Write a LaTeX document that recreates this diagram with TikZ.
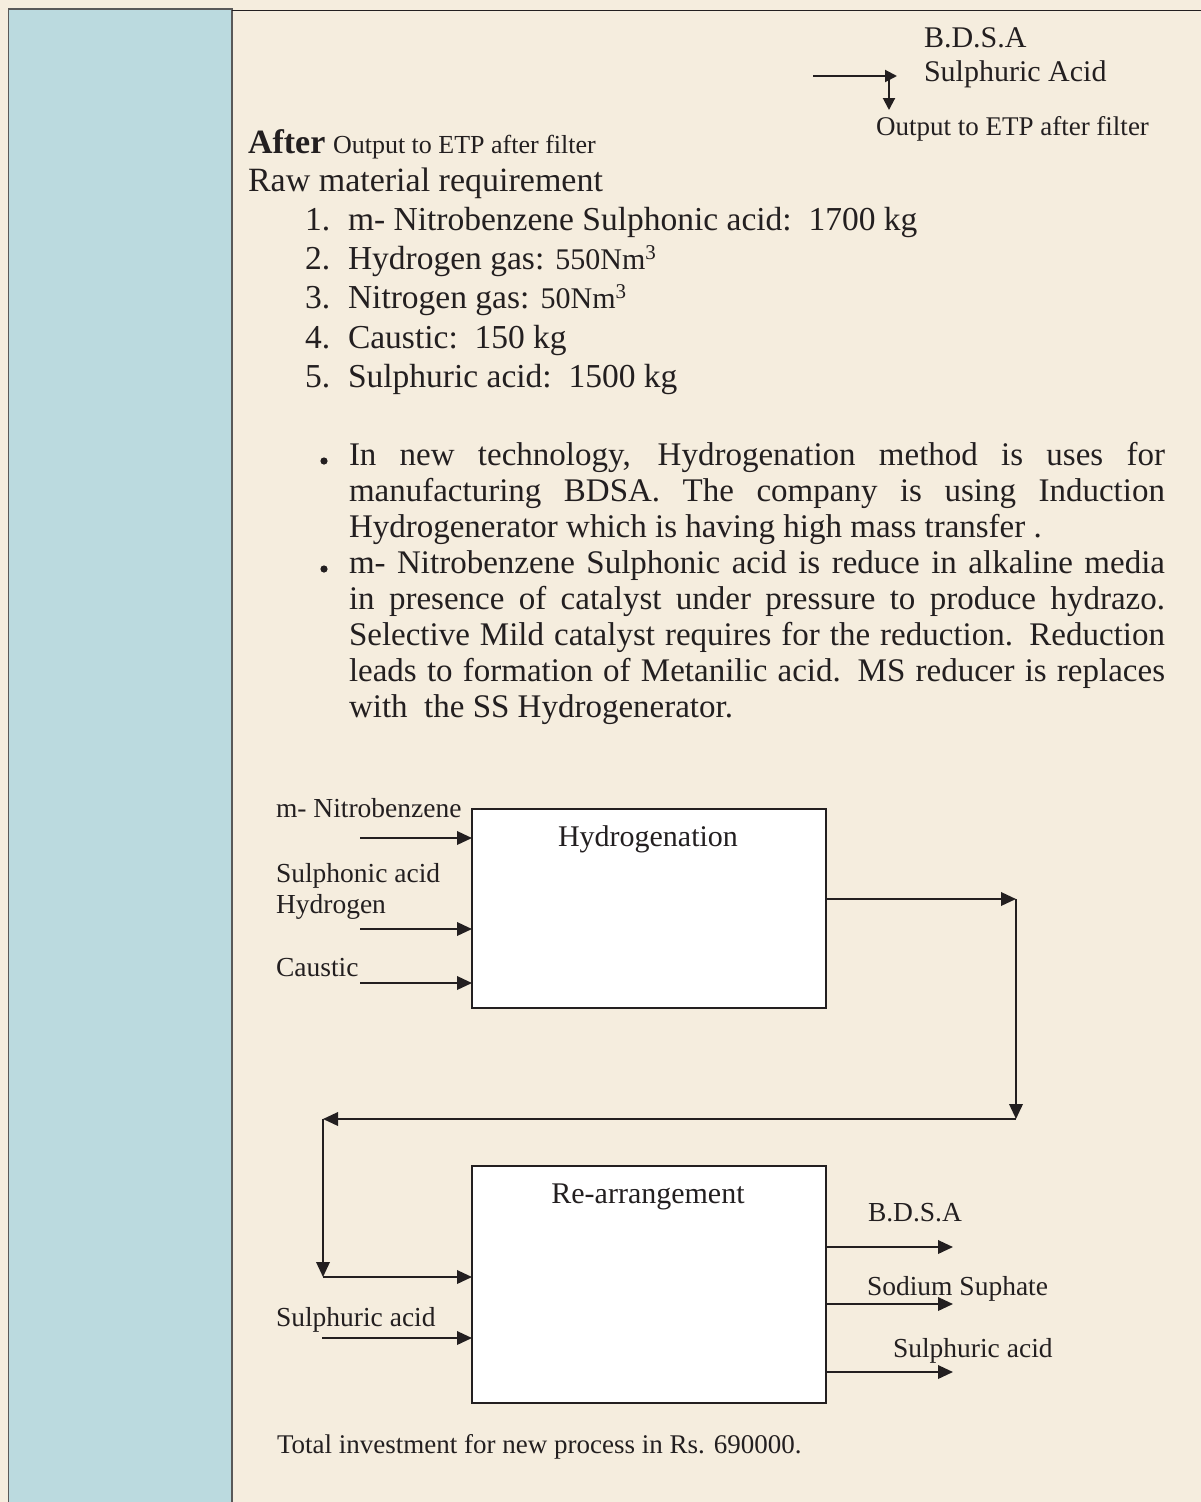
\documentclass[tikz,border=0pt]{standalone}
\usepackage{fontspec}
\setmainfont{Liberation Serif}
\usetikzlibrary{arrows.meta}
\definecolor{bgc}{HTML}{F5EDDE}
\definecolor{panelc}{HTML}{BBDADF}
\definecolor{inkc}{HTML}{231F20}
\newcommand\fsz[1]{\fontsize{#1}{#1}\selectfont}
\begin{document}
\begin{tikzpicture}[x=1pt,y=-1pt,
  every node/.style={inner sep=0pt, outer sep=0pt, text=inkc},
  txt/.style={anchor=base west},
  arr/.style={draw=inkc, line width=2pt, -{Triangle[length=15pt,width=13.5pt]}},
  sarr/.style={draw=inkc, line width=2pt, -{Triangle[length=12pt,width=12pt]}},
  procbox/.style={draw=inkc, line width=1.5pt, fill=white, anchor=north west},
  lbl/.style={anchor=base west, font=\fsz{27.5}},
  ttl/.style={anchor=base, font=\fsz{30}}]
\useasboundingbox (0,0) rectangle (1201,1502);
\fill[bgc] (0,0) rectangle (1201,1502);
% left panel and top rule
\draw[fill=panelc, draw=black!65, line width=1.2pt] (8.5,9) rectangle (232,1520);
\draw[draw=inkc, line width=1.5pt] (232,10.5) -- (1201,10.5);

% top right
\node[txt, font=\fsz{30}] (tbdsa) at (924,47) {B.D.S.A};
\node[txt, font=\fsz{30}] (tsa) at (924,81) {Sulphuric Acid};
\coordinate (ta0) at (813,76);
\coordinate (ta1) at (897,76);
\coordinate (tb0) at (889,76);
\coordinate (tb1) at (889,110);
\draw[sarr] (ta0) -- (ta1);
\draw[sarr] (tb0) -- (tb1);
\node[txt, font=\fsz{27}] (tout) at (876,135) {Output to ETP after filter};

% heading
\node[txt, font=\fsz{34}\bfseries] (after) at (248,153) {After};
\node[txt, font=\fsz{26}] (aout) at (333,153) {Output to ETP after filter};
\node[txt, font=\fsz{34}] (raw) at (248,191) {Raw material requirement};

% list
\node[txt, font=\fsz{33.5}] (n1) at (305,230) {1.};
\node[txt, font=\fsz{33.5}] (t1) at (348,230) {m- Nitrobenzene Sulphonic acid:\ \ 1700 kg};
\node[txt, font=\fsz{33.5}] (n2) at (305,269) {2.};
\node[txt, font=\fsz{33.5}] (t2) at (348,269) {Hydrogen gas: {\fsz{30}550Nm\textsuperscript{3}}};
\node[txt, font=\fsz{33.5}] (n3) at (305,308) {3.};
\node[txt, font=\fsz{33.5}] (t3) at (348,308) {Nitrogen gas: {\fsz{30}50Nm\textsuperscript{3}}};
\node[txt, font=\fsz{33.5}] (n4) at (305,348) {4.};
\node[txt, font=\fsz{33.5}] (t4) at (348,348) {Caustic:\ \ 150 kg};
\node[txt, font=\fsz{33.5}] (n5) at (305,387) {5.};
\node[txt, font=\fsz{33.5}] (t5) at (348,387) {Sulphuric acid:\ \ 1500 kg};

% bullets
\fill[inkc] (324,461) circle (3.6pt);
\fill[inkc] (324,569) circle (3.6pt);
\node[txt, font=\fsz{33}] (p1) at (349,465) {\makebox[816pt][s]{In new technology, Hydrogenation method is uses for}};
\node[txt, font=\fsz{33}] (p2) at (349,501) {\makebox[816pt][s]{manufacturing BDSA. The company is using Induction}};
\node[txt, font=\fsz{33}] (p3) at (349,537) {Hydrogenerator which is having high mass transfer .};
\node[txt, font=\fsz{33}] (p4) at (349,573) {\makebox[816pt][s]{m- Nitrobenzene Sulphonic acid is reduce in alkaline media}};
\node[txt, font=\fsz{33}] (p5) at (349,609) {\makebox[816pt][s]{in presence of catalyst under pressure to produce hydrazo.}};
\node[txt, font=\fsz{33}] (p6) at (349,645) {\makebox[816pt][s]{Selective Mild catalyst requires for the reduction. Reduction}};
\node[txt, font=\fsz{33}] (p7) at (349,681) {\makebox[816pt][s]{leads to formation of Metanilic acid. MS reducer is replaces}};
\node[txt, font=\fsz{33}] (p8) at (349,717) {with\ \ the SS Hydrogenerator.};

% hydrogenation block
\node[procbox, minimum width=354pt, minimum height=199pt] (hyd) at (472,809) {};
\node[ttl] (hydt) at (648,846) {Hydrogenation};
\node[lbl] (lnb) at (276,817) {m- Nitrobenzene};
\node[lbl] (lsa) at (276,882) {Sulphonic acid};
\node[lbl] (lh) at (276,913) {Hydrogen};
\node[lbl] (lc) at (276,976) {Caustic};
\coordinate (i1) at (360,838);
\coordinate (i2) at (360,929);
\coordinate (i3) at (360,983);
\draw[arr] (i1) -- (i1 -| hyd.west);
\draw[arr] (i2) -- (i2 -| hyd.west);
\draw[arr] (i3) -- (i3 -| hyd.west);

% loop to re-arrangement
\coordinate (o1) at (1016,899);
\coordinate (c2) at (1016,1119);
\coordinate (c3) at (323,1119);
\coordinate (c4) at (323,1277);
\draw[arr] (hyd.east |- o1) -- (o1);
\draw[arr] (o1) -- (c2);
\draw[arr] (c2) -- (c3);
\draw[arr] (c3) -- (c4);

% re-arrangement block
\node[procbox, minimum width=354pt, minimum height=237pt] (rea) at (472,1166) {};
\node[ttl] (reat) at (648,1203) {Re-arrangement};
\draw[arr] (c4) -- (c4 -| rea.west);
\node[lbl] (lsu) at (276,1326) {Sulphuric acid};
\coordinate (i4) at (322,1338);
\draw[arr] (i4) -- (i4 -| rea.west);

\coordinate (e1) at (953,1247);
\coordinate (e2) at (953,1304);
\coordinate (e3) at (953,1372);
\draw[arr] (rea.east |- e1) -- (e1);
\draw[arr] (rea.east |- e2) -- (e2);
\draw[arr] (rea.east |- e3) -- (e3);
\node[lbl] (lbd) at (868,1221) {B.D.S.A};
\node[lbl] (lss) at (867,1295) {Sodium Suphate};
\node[lbl] (lsb) at (893,1357) {Sulphuric acid};

\node[txt, font=\fsz{27}] (total) at (277,1453) {Total investment for new process in Rs. 690000.};
\end{tikzpicture}
\end{document}
